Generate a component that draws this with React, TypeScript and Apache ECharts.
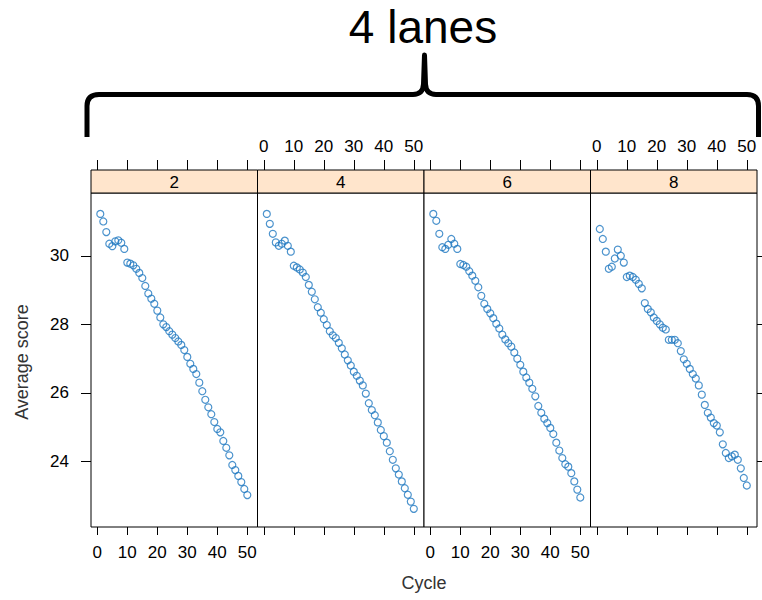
import React, { useEffect, useRef } from "react";
import * as echarts from "echarts";

const chartTitle = "4 lanes";
const lanes = ["2", "4", "6", "8"];
const xTitle = "Cycle";
const yTitle = "Average score";
const xTicks = [0, 10, 20, 30, 40, 50];
const yTicks = [24, 26, 28, 30];

const cycles = [
  1, 2, 3, 4, 5, 6, 7, 8, 9, 10, 11, 12, 13, 14, 15, 16, 17, 18, 19, 20, 21, 22, 23, 24, 25,
  26, 27, 28, 29, 30, 31, 32, 33, 34, 35, 36, 37, 38, 39, 40, 41, 42, 43, 44, 45, 46, 47, 48, 49, 50,
];

const lane2 = [
  31.22, 31.0, 30.69, 30.35, 30.28, 30.42, 30.45, 30.38, 30.2, 29.8,
  29.77, 29.72, 29.62, 29.5, 29.35, 29.12, 28.9, 28.75, 28.6, 28.4,
  28.2, 28.0, 27.92, 27.8, 27.7, 27.6, 27.5, 27.4, 27.25, 27.05,
  26.85, 26.7, 26.55, 26.3, 26.05, 25.8, 25.58, 25.38, 25.15, 24.95,
  24.85, 24.6, 24.4, 24.18, 23.9, 23.75, 23.58, 23.4, 23.2, 23.02,
];
const lane4 = [
  31.22, 30.93, 30.64, 30.39, 30.29, 30.35, 30.44, 30.29, 30.12, 29.71,
  29.66, 29.6, 29.51, 29.38, 29.15, 28.95, 28.73, 28.5, 28.34, 28.15,
  27.98, 27.8, 27.68, 27.6, 27.46, 27.3, 27.12, 26.95, 26.8, 26.62,
  26.5, 26.36, 26.22, 25.98, 25.7, 25.5, 25.35, 25.14, 24.92, 24.74,
  24.55, 24.3, 24.05, 23.8, 23.62, 23.42, 23.22, 23.03, 22.83, 22.62,
];
const lane6 = [
  31.22, 31.02, 30.64, 30.25, 30.2, 30.32, 30.49, 30.35, 30.2, 29.76,
  29.73, 29.68, 29.55, 29.42, 29.27, 29.08, 28.83, 28.6, 28.45, 28.32,
  28.18, 28.02, 27.88, 27.7, 27.56, 27.45, 27.35, 27.18, 27.0, 26.82,
  26.62, 26.45, 26.3, 26.12, 25.9, 25.62, 25.42, 25.25, 25.12, 24.98,
  24.8, 24.55, 24.32, 24.1, 23.92, 23.85, 23.66, 23.42, 23.18, 22.95,
];
const lane8 = [
  30.78, 30.49, 30.12, 29.62, 29.68, 29.92, 30.18, 30.0, 29.8, 29.38,
  29.42, 29.38, 29.3, 29.18, 29.05, 28.62, 28.45, 28.35, 28.2, 28.1,
  28.0, 27.9, 27.85, 27.55, 27.55, 27.55, 27.45, 27.22, 26.98, 26.85,
  26.7, 26.55, 26.42, 26.22, 25.95, 25.65, 25.42, 25.28, 25.12, 25.05,
  24.85, 24.5, 24.25, 24.1, 24.15, 24.2, 24.05, 23.8, 23.52, 23.3,
];
const laneValues = [lane2, lane4, lane6, lane8];

const BRACE =
  "M 87 137 L 87 106 Q 87 94.5 99 94.5 L 413 94.5 Q 423 94.5 423.5 84 L 424.5 55 L 425.5 84 Q 426 94.5 436 94.5 L 747 94.5 Q 758.5 94.5 758.5 106 L 758.5 137";
let braceRegistered = false;

export default function App() {
  const ref = useRef<HTMLDivElement>(null);
  useEffect(() => {
    if (!braceRegistered) {
      echarts.graphic.registerShape("brace", echarts.graphic.extendPath(BRACE, {}) as any);
      braceRegistered = true;
    }
    const chart = echarts.init(ref.current!, null, { renderer: "svg" });
    const font = "Liberation Sans";
    const panelLeft = 91;
    const panelW = 166.5;
    const top = 193;
    const h = 334;
    const stripTop = 170;
    const stripH = 23;
    const xMin = -2.1;
    const xMax = 53.4;
    const yMin = 22.09;
    const yMax = 31.83;
    const pointColor = "#1f78c1";

    const grids: any[] = [];
    const xAxes: any[] = [];
    const yAxes: any[] = [];
    const series: any[] = [];
    const graphics: any[] = [];

    lanes.forEach((lane, i) => {
      const left = panelLeft + i * panelW;
      grids.push({
        left, top, width: panelW, height: h, show: true,
        borderColor: "#000", borderWidth: 1, backgroundColor: "#fff",
      });
      grids.push({
        left, top: stripTop, width: panelW, height: stripH, show: true,
        borderColor: "#000", borderWidth: 1, backgroundColor: "#ffe5cc",
      });
      xAxes.push({
        gridIndex: 2 * i, type: "value", min: xMin, max: xMax, position: "bottom",
        axisLine: { show: false, onZero: false }, splitLine: { show: false },
        axisTick: { show: true, inside: false, length: 8, customValues: xTicks, lineStyle: { color: "#000" } },
        axisLabel: {
          show: i % 2 === 0, customValues: xTicks, margin: 17, color: "#000",
          fontFamily: font, fontSize: 17,
        },
      });
      xAxes.push({
        gridIndex: 2 * i + 1, type: "value", min: xMin, max: xMax, position: "top",
        axisLine: { show: false, onZero: false }, splitLine: { show: false },
        axisTick: { show: true, inside: false, length: 10, customValues: xTicks, lineStyle: { color: "#000" } },
        axisLabel: {
          show: i % 2 === 1, customValues: xTicks, margin: 15, color: "#000",
          fontFamily: font, fontSize: 17,
        },
      });
      yAxes.push({
        gridIndex: 2 * i, type: "value", min: yMin, max: yMax,
        position: i === 3 ? "right" : "left",
        axisLine: { show: false, onZero: false }, splitLine: { show: false },
        axisTick: {
          show: i === 0 || i === 3, inside: false, length: 10, customValues: yTicks,
          lineStyle: { color: "#000" },
        },
        axisLabel: {
          show: i === 0, customValues: yTicks, margin: 22, color: "#000",
          fontFamily: font, fontSize: 17,
        },
      });
      yAxes.push({
        gridIndex: 2 * i + 1, type: "value", show: false,
        axisLine: { onZero: false },
      });
      series.push({
        type: "scatter",
        xAxisIndex: 2 * i,
        yAxisIndex: 2 * i,
        data: cycles.map((c, k) => [c, laneValues[i][k]]),
        symbol: "circle",
        symbolSize: 7,
        itemStyle: { color: "rgba(0,0,0,0)", borderColor: pointColor, borderWidth: 1.2 },
      });
      graphics.push({
        type: "text",
        x: left + panelW / 2,
        y: stripTop + stripH / 2 + 0.5,
        style: {
          text: lane, fill: "#000", font: `17px "${font}"`,
          textAlign: "center", textVerticalAlign: "middle",
        },
      });
    });

    graphics.push({
      type: "brace",
      shape: {},
      style: { stroke: "#000", lineWidth: 5, fill: "none", lineJoin: "round" },
    });
    graphics.push({
      type: "text", x: 423, y: 27,
      style: {
        text: chartTitle, fill: "#000", font: `46px "${font}"`,
        textAlign: "center", textVerticalAlign: "middle",
      },
    });
    graphics.push({
      type: "text", x: 424, y: 583,
      style: {
        text: xTitle, fill: "#333", font: `18px "${font}"`,
        textAlign: "center", textVerticalAlign: "middle",
      },
    });
    graphics.push({
      type: "text", x: 22, y: 362, rotation: Math.PI / 2,
      style: {
        text: yTitle, fill: "#333", font: `18px "${font}"`,
        textAlign: "center", textVerticalAlign: "middle",
      },
    });

    chart.setOption({
      animation: false,
      backgroundColor: "#fff",
      grid: grids,
      xAxis: xAxes,
      yAxis: yAxes,
      series,
      graphic: graphics,
    });
    return () => chart.dispose();
  }, []);

  return (
    <div
      ref={ref}
      style={{ position: "absolute", left: 0, top: 0, width: 762, height: 600 }}
    />
  );
}
